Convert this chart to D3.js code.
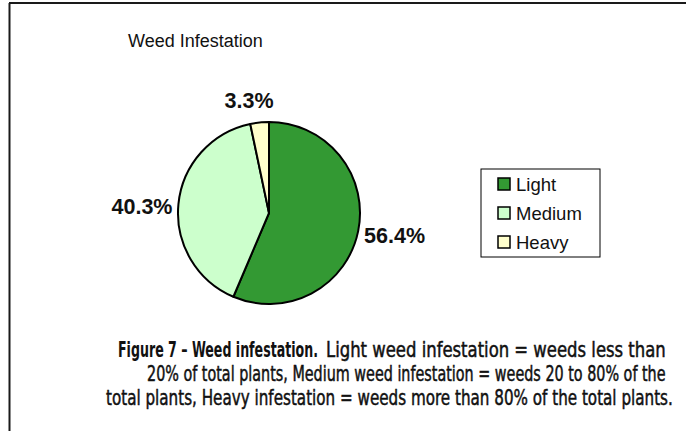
<!DOCTYPE html>
<html>
<head>
<meta charset="utf-8">
<script src="https://cdn.jsdelivr.net/npm/d3@7"></script>
<style>
  body { margin: 0; background: #fff; }
  svg { display: block; }
</style>
</head>
<body>
<div id="container"></div>
<script>
// Data
const categories = ["Light", "Medium", "Heavy"];
const shares = [56.4, 40.3, 3.3];
const colors = ["#339933", "#ccffcc", "#ffffcc"];
const chartTitle = "Weed Infestation";
const captionBold = "Figure 7 \u2013 Weed infestation.";
const captionLines = [
    "Light weed infestation = weeds less than",
    "20% of total plants, Medium weed infestation = weeds 20 to 80% of the",
    "total plants, Heavy infestation = weeds more than 80% of the total plants."
];

const width = 686, height = 431;
const cx = 269, cy = 213, radius = 91;

const svg = d3.select("#container")
    .append("svg")
    .attr("width", width)
    .attr("height", height);

// Frame (top and left edges)
svg.append("line")
    .attr("x1", 9).attr("x2", width).attr("y1", 3).attr("y2", 3)
    .attr("stroke", "#1a1a1a").attr("stroke-width", 2);
svg.append("line")
    .attr("x1", 9.5).attr("x2", 9.5).attr("y1", 3).attr("y2", height)
    .attr("stroke", "#1a1a1a").attr("stroke-width", 2);

// Title
svg.append("text")
    .attr("x", 128).attr("y", 47)
    .attr("font-family", "Liberation Sans, Arial, sans-serif")
    .attr("font-size", 18)
    .attr("fill", "#111")
    .text(chartTitle);

const data = categories.map((c, i) => ({ name: c, value: shares[i], color: colors[i] }));

const pie = d3.pie().sort(null).value(d => d.value);
const arc = d3.arc().innerRadius(0).outerRadius(radius);
const arcs = pie(data);

const g = svg.append("g").attr("transform", `translate(${cx},${cy})`);

g.selectAll("path")
    .data(arcs)
    .enter()
    .append("path")
    .attr("d", arc)
    .attr("fill", d => d.data.color)
    .attr("stroke", "#000")
    .attr("stroke-width", 2)
    .attr("stroke-linejoin", "round");

// Data labels outside the slices
g.selectAll("text.lbl")
    .data(arcs)
    .enter()
    .append("text")
    .attr("class", "lbl")
    .each(function(d) {
        const a = (d.startAngle + d.endAngle) / 2;
        const s = Math.sin(a), c = Math.cos(a);
        const el = d3.select(this);
        if (Math.abs(s) < 0.3) {
            const r = radius + 15;
            el.attr("x", r * s - 9).attr("y", -r * c)
              .attr("text-anchor", "middle");
        } else {
            const r = radius + 6;
            el.attr("x", r * s).attr("y", -r * c + 3)
              .attr("dy", "0.35em")
              .attr("text-anchor", s > 0 ? "start" : "end");
        }
    })
    .attr("font-family", "Liberation Sans, Arial, sans-serif")
    .attr("font-weight", "bold")
    .attr("font-size", 21.5)
    .attr("fill", "#111")
    .text(d => d3.format(".1f")(d.data.value) + "%");

// Legend
const legend = svg.append("g").attr("transform", "translate(481,169)");
legend.append("rect")
    .attr("width", 119).attr("height", 88)
    .attr("fill", "#fff").attr("stroke", "#000").attr("stroke-width", 1);

const rowY = d3.scalePoint().domain(categories).range([15, 73]);
const item = legend.selectAll("g.item")
    .data(data)
    .enter()
    .append("g")
    .attr("class", "item")
    .attr("transform", d => `translate(0,${rowY(d.name)})`);
item.append("rect")
    .attr("x", 17).attr("y", -6)
    .attr("width", 12).attr("height", 12)
    .attr("fill", d => d.color)
    .attr("stroke", "#000").attr("stroke-width", 1.5);
item.append("text")
    .attr("x", 35).attr("y", 0).attr("dy", "0.36em")
    .attr("font-family", "Liberation Sans, Arial, sans-serif")
    .attr("font-size", 18.5)
    .attr("fill", "#111")
    .text(d => d.name);

// Caption: condensed face, squeezed horizontally to the reference widths
const capFont = "'DejaVu Sans Condensed', 'DejaVu Sans', sans-serif";
const capParts = [
    { text: captionBold, bold: true, x: 118, y: 357, w: 200 },
    { text: captionLines[0], bold: false, x: 326, y: 357, w: 340 },
    { text: captionLines[1], bold: false, x: 147, y: 381, w: 519 },
    { text: captionLines[2], bold: false, x: 106, y: 405, w: 567 }
];
capParts.forEach(p => {
    const grp = svg.append("g");
    const t = grp.append("text")
        .attr("x", 0).attr("y", 0)
        .attr("font-family", capFont)
        .attr("font-stretch", "condensed")
        .attr("font-weight", p.bold ? "bold" : "normal")
        .attr("font-size", 22)
        .attr("fill", "#111")
        .attr("stroke", p.bold ? "none" : "#111")
        .attr("stroke-width", 0.5)
        .text(p.text);
    const natural = t.node().getComputedTextLength();
    grp.attr("transform", `translate(${p.x},${p.y}) scale(${p.w / natural},1)`);
});
</script>
</body>
</html>
